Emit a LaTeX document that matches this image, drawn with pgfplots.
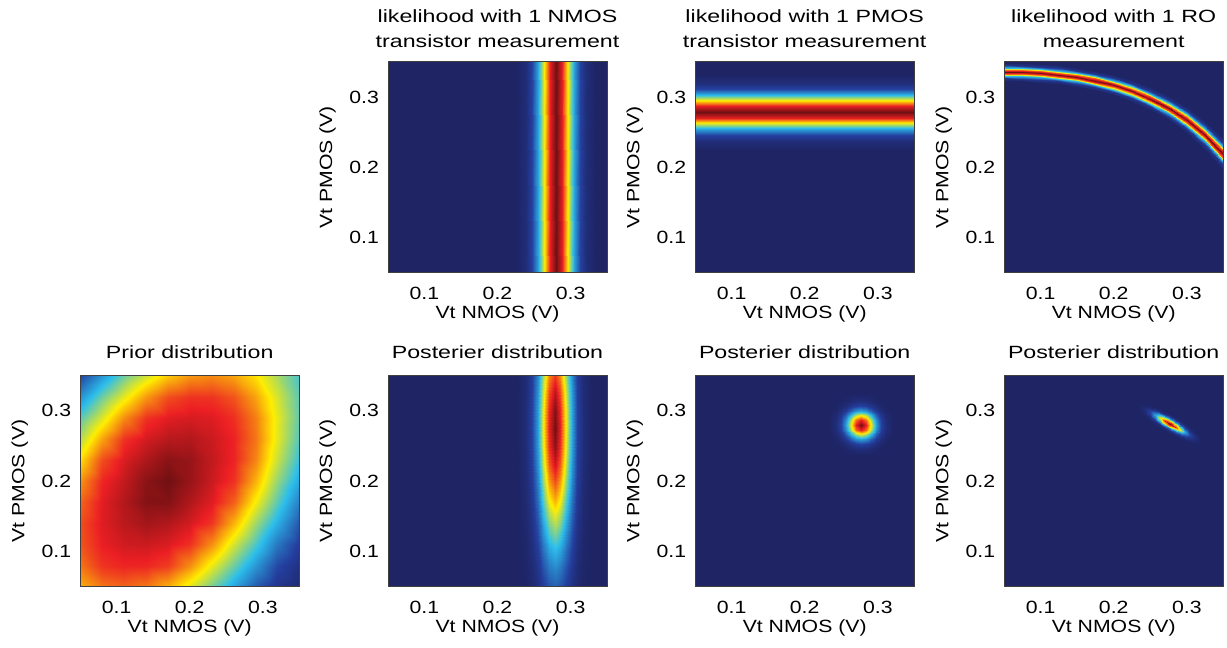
\documentclass[border=0pt]{standalone}
\usepackage{fontspec}
\setmainfont{Liberation Sans}[FakeStretch=1.2]
\newfontfamily\titlefont{Liberation Sans}[FakeStretch=1.31]
\usepackage{pgfplots}
\pgfplotsset{compat=1.18}
\definecolor{bgblue}{RGB}{30,36,100}
\newcommand\fs{\fontsize{8.85}{12.5}\selectfont}
\pgfplotsset{
  hm/.style={
    scale only axis, width=109.7pt, height=105.5pt, anchor=south west,
    xmin=0.05, xmax=0.35, ymin=0.05, ymax=0.35,
    xtick={0.1,0.2,0.3}, ytick={0.1,0.2,0.3},
    xticklabels={0.1,0.2,0.3}, yticklabels={0.1,0.2,0.3},
    major tick length=0pt, axis on top,
    axis line style={draw=black!75, line width=0.3pt},
    colormap={jetp}{rgb255(0cm)=(30,36,100) rgb255(1cm)=(36,62,158) rgb255(3cm)=(44,190,236)
      rgb255(5cm)=(255,237,0) rgb255(7cm)=(236,31,36) rgb255(8cm)=(112,16,18)},
    point meta min=0, point meta max=1,
    axis background/.style={fill=bgblue},
    tick label style={font=\fs}, label style={font=\fs},
    xticklabel style={yshift=-3.7pt}, yticklabel style={xshift=-0.9pt},
    xlabel={Vt NMOS (V)}, ylabel={Vt PMOS (V)},
    xlabel style={at={(axis description cs:0.5,-0.218)}, anchor=base},
    ylabel style={at={(axis description cs:-0.2534,0.5)}, anchor=base},
    title style={font=\titlefont\fs, align=center, at={(axis description cs:0.5,1.08)},
      anchor=south, inner sep=0pt, yshift=-6pt},
  },
  toprow/.style={title style={at={(axis description cs:0.5,1.065)}}},
  hmplot/.style={surf, shader=interp, point meta=explicit, mesh/cols=#1},
}
\begin{document}
\begin{tikzpicture}
\path[use as bounding box] (0,0) rectangle (613.5pt,324pt);

% ---- top row: likelihoods ----
\begin{axis}[hm, toprow, at={(193.9pt,187.6pt)}, title={likelihood with 1 NMOS\\transistor measurement}]
\addplot[hmplot=2] coordinates {
(0.2272,0.05) [0.006] (0.2272,0.35) [0.006]
(0.2388,0.05) [0.044] (0.2388,0.35) [0.044]
(0.2470,0.05) [0.135] (0.2470,0.35) [0.135]
(0.2553,0.05) [0.325] (0.2553,0.35) [0.325]
(0.2635,0.05) [0.607] (0.2635,0.35) [0.607]
(0.2718,0.05) [0.883] (0.2718,0.35) [0.883]
(0.2800,0.05) [1.000] (0.2800,0.35) [1.000]
(0.2883,0.05) [0.883] (0.2883,0.35) [0.883]
(0.2965,0.05) [0.607] (0.2965,0.35) [0.607]
(0.3048,0.05) [0.325] (0.3048,0.35) [0.325]
(0.3130,0.05) [0.135] (0.3130,0.35) [0.135]
(0.3213,0.05) [0.044] (0.3213,0.35) [0.044]
(0.3328,0.05) [0.006] (0.3328,0.35) [0.006]
};
\end{axis}

\begin{axis}[hm, toprow, at={(347.5pt,187.6pt)}, title={likelihood with 1 PMOS\\transistor measurement}]
\addplot[hmplot=2] coordinates {
(0.05,0.2262) [0.006] (0.35,0.2262) [0.006]
(0.05,0.2378) [0.044] (0.35,0.2378) [0.044]
(0.05,0.2460) [0.135] (0.35,0.2460) [0.135]
(0.05,0.2543) [0.325] (0.35,0.2543) [0.325]
(0.05,0.2625) [0.607] (0.35,0.2625) [0.607]
(0.05,0.2708) [0.883] (0.35,0.2708) [0.883]
(0.05,0.2790) [1.000] (0.35,0.2790) [1.000]
(0.05,0.2873) [0.883] (0.35,0.2873) [0.883]
(0.05,0.2955) [0.607] (0.35,0.2955) [0.607]
(0.05,0.3038) [0.325] (0.35,0.3038) [0.325]
(0.05,0.3120) [0.135] (0.35,0.3120) [0.135]
(0.05,0.3203) [0.044] (0.35,0.3203) [0.044]
(0.05,0.3318) [0.006] (0.35,0.3318) [0.006]
};
\end{axis}

\begin{axis}[hm, toprow, at={(502pt,187.6pt)}, title={likelihood with 1 RO\\measurement}]
% one scanline per x, across the band
\addplot[hmplot=9] coordinates {
(0.050,0.3232) [0.006] (0.050,0.3272) [0.089] (0.050,0.3304) [0.375] (0.050,0.3332) [0.783] (0.050,0.3360) [1] (0.050,0.3388) [0.783] (0.050,0.3416) [0.375] (0.050,0.3448) [0.089] (0.050,0.3488) [0.006]
(0.075,0.3220) [0.006] (0.075,0.3261) [0.089] (0.075,0.3294) [0.375] (0.075,0.3322) [0.783] (0.075,0.3351) [1] (0.075,0.3380) [0.783] (0.075,0.3408) [0.375] (0.075,0.3441) [0.089] (0.075,0.3482) [0.006]
(0.100,0.3205) [0.006] (0.100,0.3246) [0.089] (0.100,0.3279) [0.375] (0.100,0.3307) [0.783] (0.100,0.3336) [1] (0.100,0.3365) [0.783] (0.100,0.3393) [0.375] (0.100,0.3426) [0.089] (0.100,0.3467) [0.006]
(0.125,0.3180) [0.006] (0.125,0.3222) [0.089] (0.125,0.3255) [0.375] (0.125,0.3285) [0.783] (0.125,0.3314) [1] (0.125,0.3343) [0.783] (0.125,0.3373) [0.375] (0.125,0.3406) [0.089] (0.125,0.3448) [0.006]
(0.150,0.3142) [0.006] (0.150,0.3185) [0.089] (0.150,0.3220) [0.375] (0.150,0.3250) [0.783] (0.150,0.3280) [1] (0.150,0.3310) [0.783] (0.150,0.3340) [0.375] (0.150,0.3375) [0.089] (0.150,0.3418) [0.006]
(0.175,0.3092) [0.006] (0.175,0.3136) [0.089] (0.175,0.3171) [0.375] (0.175,0.3202) [0.783] (0.175,0.3233) [1] (0.175,0.3264) [0.783] (0.175,0.3295) [0.375] (0.175,0.3330) [0.089] (0.175,0.3374) [0.006]
(0.200,0.3025) [0.006] (0.200,0.3070) [0.089] (0.200,0.3106) [0.375] (0.200,0.3138) [0.783] (0.200,0.3169) [1] (0.200,0.3200) [0.783] (0.200,0.3232) [0.375] (0.200,0.3268) [0.089] (0.200,0.3313) [0.006]
(0.225,0.2935) [0.006] (0.225,0.2982) [0.089] (0.225,0.3019) [0.375] (0.225,0.3052) [0.783] (0.225,0.3085) [1] (0.225,0.3118) [0.783] (0.225,0.3151) [0.375] (0.225,0.3188) [0.089] (0.225,0.3235) [0.006]
(0.250,0.2816) [0.006] (0.250,0.2866) [0.089] (0.250,0.2906) [0.375] (0.250,0.2941) [0.783] (0.250,0.2976) [1] (0.250,0.3011) [0.783] (0.250,0.3046) [0.375] (0.250,0.3086) [0.089] (0.250,0.3136) [0.006]
(0.275,0.2669) [0.006] (0.275,0.2722) [0.089] (0.275,0.2765) [0.375] (0.275,0.2802) [0.783] (0.275,0.2839) [1] (0.275,0.2876) [0.783] (0.275,0.2913) [0.375] (0.275,0.2956) [0.089] (0.275,0.3009) [0.006]
(0.300,0.2485) [0.006] (0.300,0.2543) [0.089] (0.300,0.2590) [0.375] (0.300,0.2630) [0.783] (0.300,0.2671) [1] (0.300,0.2712) [0.783] (0.300,0.2752) [0.375] (0.300,0.2799) [0.089] (0.300,0.2857) [0.006]
(0.325,0.2253) [0.006] (0.325,0.2317) [0.089] (0.325,0.2368) [0.375] (0.325,0.2413) [0.783] (0.325,0.2458) [1] (0.325,0.2503) [0.783] (0.325,0.2548) [0.375] (0.325,0.2599) [0.089] (0.325,0.2663) [0.006]
(0.350,0.1959) [0.006] (0.350,0.2031) [0.089] (0.350,0.2088) [0.375] (0.350,0.2139) [0.783] (0.350,0.2189) [1] (0.350,0.2239) [0.783] (0.350,0.2290) [0.375] (0.350,0.2347) [0.089] (0.350,0.2419) [0.006]
};
\end{axis}

% ---- bottom row: prior and posteriors ----
\begin{axis}[hm, at={(40pt,30.7pt)}, title={Prior distribution}]
\addplot[hmplot=11] coordinates {
(0.05,0.05) [0.698] (0.08,0.05) [0.768] (0.11,0.05) [0.790] (0.14,0.05) [0.766] (0.17,0.05) [0.695] (0.20,0.05) [0.585] (0.23,0.05) [0.459] (0.26,0.05) [0.321] (0.29,0.05) [0.175] (0.32,0.05) [0.081] (0.35,0.05) [0.030]
(0.05,0.08) [0.770] (0.08,0.08) [0.849] (0.11,0.08) [0.869] (0.14,0.08) [0.866] (0.17,0.08) [0.839] (0.20,0.08) [0.738] (0.23,0.08) [0.598] (0.26,0.08) [0.449] (0.29,0.08) [0.293] (0.32,0.08) [0.144] (0.35,0.08) [0.062]
(0.05,0.11) [0.810] (0.08,0.11) [0.878] (0.11,0.11) [0.905] (0.14,0.11) [0.910] (0.17,0.11) [0.894] (0.20,0.11) [0.854] (0.23,0.11) [0.739] (0.26,0.11) [0.573] (0.29,0.11) [0.412] (0.32,0.11) [0.239] (0.35,0.11) [0.113]
(0.05,0.14) [0.817] (0.08,0.14) [0.890] (0.11,0.14) [0.926] (0.14,0.14) [0.949] (0.17,0.14) [0.935] (0.20,0.14) [0.901] (0.23,0.14) [0.847] (0.26,0.14) [0.695] (0.29,0.14) [0.510] (0.32,0.14) [0.346] (0.35,0.14) [0.174]
(0.05,0.17) [0.790] (0.08,0.17) [0.886] (0.11,0.17) [0.934] (0.14,0.17) [0.980] (0.17,0.17) [0.981] (0.20,0.17) [0.935] (0.23,0.17) [0.888] (0.26,0.17) [0.796] (0.29,0.17) [0.613] (0.32,0.17) [0.435] (0.35,0.17) [0.252]
(0.05,0.20) [0.733] (0.08,0.20) [0.866] (0.11,0.20) [0.918] (0.14,0.20) [0.974] (0.17,0.20) [0.999] (0.20,0.20) [0.961] (0.23,0.20) [0.910] (0.26,0.20) [0.852] (0.29,0.20) [0.694] (0.32,0.20) [0.502] (0.35,0.20) [0.331]
(0.05,0.23) [0.642] (0.08,0.23) [0.820] (0.11,0.23) [0.894] (0.14,0.23) [0.939] (0.17,0.23) [0.974] (0.20,0.23) [0.961] (0.23,0.23) [0.917] (0.26,0.23) [0.870] (0.29,0.23) [0.748] (0.32,0.23) [0.561] (0.35,0.23) [0.389]
(0.05,0.26) [0.535] (0.08,0.26) [0.715] (0.11,0.26) [0.852] (0.14,0.26) [0.901] (0.17,0.26) [0.928] (0.20,0.26) [0.934] (0.23,0.26) [0.910] (0.26,0.26) [0.871] (0.29,0.26) [0.768] (0.32,0.26) [0.595] (0.35,0.26) [0.426]
(0.05,0.29) [0.428] (0.08,0.29) [0.585] (0.11,0.29) [0.743] (0.14,0.29) [0.852] (0.17,0.29) [0.887] (0.20,0.29) [0.899] (0.23,0.29) [0.890] (0.26,0.29) [0.856] (0.29,0.29) [0.757] (0.32,0.29) [0.600] (0.35,0.29) [0.442]
(0.05,0.32) [0.290] (0.08,0.32) [0.456] (0.11,0.32) [0.598] (0.14,0.32) [0.729] (0.17,0.32) [0.819] (0.20,0.32) [0.852] (0.23,0.32) [0.850] (0.26,0.32) [0.809] (0.29,0.32) [0.712] (0.32,0.32) [0.577] (0.35,0.32) [0.436]
(0.05,0.35) [0.135] (0.08,0.35) [0.300] (0.11,0.35) [0.456] (0.14,0.35) [0.572] (0.17,0.35) [0.671] (0.20,0.35) [0.732] (0.23,0.35) [0.747] (0.26,0.35) [0.715] (0.29,0.35) [0.636] (0.32,0.35) [0.527] (0.35,0.35) [0.410]
};
\end{axis}

\begin{axis}[hm, at={(193.9pt,30.7pt)}, title={Posterier distribution}]
\addplot[hmplot=13] coordinates {
(0.2284,0.050) [0.001] (0.2393,0.050) [0.008] (0.2470,0.050) [0.026] (0.2548,0.050) [0.062] (0.2625,0.050) [0.115] (0.2703,0.050) [0.168] (0.2780,0.050) [0.190] (0.2858,0.050) [0.168] (0.2935,0.050) [0.115] (0.3013,0.050) [0.062] (0.3090,0.050) [0.026] (0.3168,0.050) [0.008] (0.3276,0.050) [0.001]
(0.2284,0.075) [0.002] (0.2393,0.075) [0.012] (0.2470,0.075) [0.036] (0.2548,0.075) [0.087] (0.2625,0.075) [0.163] (0.2703,0.075) [0.237] (0.2780,0.075) [0.268] (0.2858,0.075) [0.237] (0.2935,0.075) [0.163] (0.3013,0.075) [0.087] (0.3090,0.075) [0.036] (0.3168,0.075) [0.012] (0.3276,0.075) [0.002]
(0.2284,0.100) [0.002] (0.2393,0.100) [0.016] (0.2470,0.100) [0.049] (0.2548,0.100) [0.118] (0.2625,0.100) [0.220] (0.2703,0.100) [0.321] (0.2780,0.100) [0.363] (0.2858,0.100) [0.321] (0.2935,0.100) [0.220] (0.3013,0.100) [0.118] (0.3090,0.100) [0.049] (0.3168,0.100) [0.016] (0.3276,0.100) [0.002]
(0.2284,0.125) [0.003] (0.2393,0.125) [0.021] (0.2470,0.125) [0.064] (0.2548,0.125) [0.154] (0.2625,0.125) [0.287] (0.2703,0.125) [0.418] (0.2780,0.125) [0.473] (0.2858,0.125) [0.418] (0.2935,0.125) [0.287] (0.3013,0.125) [0.154] (0.3090,0.125) [0.064] (0.3168,0.125) [0.021] (0.3276,0.125) [0.003]
(0.2284,0.150) [0.004] (0.2393,0.150) [0.026] (0.2470,0.150) [0.080] (0.2548,0.150) [0.192] (0.2625,0.150) [0.359] (0.2703,0.150) [0.523] (0.2780,0.150) [0.592] (0.2858,0.150) [0.523] (0.2935,0.150) [0.359] (0.3013,0.150) [0.192] (0.3090,0.150) [0.080] (0.3168,0.150) [0.026] (0.3276,0.150) [0.004]
(0.2284,0.175) [0.004] (0.2393,0.175) [0.031] (0.2470,0.175) [0.096] (0.2548,0.175) [0.231] (0.2625,0.175) [0.432] (0.2703,0.175) [0.629] (0.2780,0.175) [0.712] (0.2858,0.175) [0.629] (0.2935,0.175) [0.432] (0.3013,0.175) [0.231] (0.3090,0.175) [0.096] (0.3168,0.175) [0.031] (0.3276,0.175) [0.004]
(0.2284,0.200) [0.005] (0.2393,0.200) [0.036] (0.2470,0.200) [0.111] (0.2548,0.200) [0.267] (0.2625,0.200) [0.500] (0.2703,0.200) [0.727] (0.2780,0.200) [0.823] (0.2858,0.200) [0.727] (0.2935,0.200) [0.500] (0.3013,0.200) [0.267] (0.3090,0.200) [0.111] (0.3168,0.200) [0.036] (0.3276,0.200) [0.005]
(0.2284,0.225) [0.005] (0.2393,0.225) [0.040] (0.2470,0.225) [0.123] (0.2548,0.225) [0.297] (0.2625,0.225) [0.555] (0.2703,0.225) [0.807] (0.2780,0.225) [0.914] (0.2858,0.225) [0.807] (0.2935,0.225) [0.555] (0.3013,0.225) [0.297] (0.3090,0.225) [0.123] (0.3168,0.225) [0.040] (0.3276,0.225) [0.005]
(0.2284,0.250) [0.006] (0.2393,0.250) [0.043] (0.2470,0.250) [0.132] (0.2548,0.250) [0.317] (0.2625,0.250) [0.592] (0.2703,0.250) [0.861] (0.2780,0.250) [0.975] (0.2858,0.250) [0.861] (0.2935,0.250) [0.592] (0.3013,0.250) [0.317] (0.3090,0.250) [0.132] (0.3168,0.250) [0.043] (0.3276,0.250) [0.006]
(0.2284,0.275) [0.006] (0.2393,0.275) [0.044] (0.2470,0.275) [0.135] (0.2548,0.275) [0.325] (0.2625,0.275) [0.607] (0.2703,0.275) [0.883] (0.2780,0.275) [1.000] (0.2858,0.275) [0.883] (0.2935,0.275) [0.607] (0.3013,0.275) [0.325] (0.3090,0.275) [0.135] (0.3168,0.275) [0.044] (0.3276,0.275) [0.006]
(0.2284,0.300) [0.006] (0.2393,0.300) [0.043] (0.2470,0.300) [0.133] (0.2548,0.300) [0.320] (0.2625,0.300) [0.598] (0.2703,0.300) [0.870] (0.2780,0.300) [0.985] (0.2858,0.300) [0.870] (0.2935,0.300) [0.598] (0.3013,0.300) [0.320] (0.3090,0.300) [0.133] (0.3168,0.300) [0.043] (0.3276,0.300) [0.006]
(0.2284,0.325) [0.006] (0.2393,0.325) [0.041] (0.2470,0.325) [0.126] (0.2548,0.325) [0.303] (0.2625,0.325) [0.566] (0.2703,0.325) [0.823] (0.2780,0.325) [0.932] (0.2858,0.325) [0.823] (0.2935,0.325) [0.566] (0.3013,0.325) [0.303] (0.3090,0.325) [0.126] (0.3168,0.325) [0.041] (0.3276,0.325) [0.006]
(0.2284,0.350) [0.005] (0.2393,0.350) [0.037] (0.2470,0.350) [0.114] (0.2548,0.350) [0.275] (0.2625,0.350) [0.514] (0.2703,0.350) [0.748] (0.2780,0.350) [0.847] (0.2858,0.350) [0.748] (0.2935,0.350) [0.514] (0.3013,0.350) [0.275] (0.3090,0.350) [0.114] (0.3168,0.350) [0.037] (0.3276,0.350) [0.005]
};
\end{axis}

\begin{axis}[hm, at={(347.5pt,30.7pt)}, title={Posterier distribution}]
\addplot[hmplot=13] coordinates {
(0.2338,0.2368) [0] (0.2433,0.2368) [0] (0.2500,0.2368) [0.001] (0.2568,0.2368) [0.002] (0.2635,0.2368) [0.004] (0.2703,0.2368) [0.005] (0.2770,0.2368) [0.006] (0.2838,0.2368) [0.005] (0.2905,0.2368) [0.004] (0.2973,0.2368) [0.002] (0.3040,0.2368) [0.001] (0.3108,0.2368) [0] (0.3202,0.2368) [0]
(0.2338,0.2463) [0] (0.2433,0.2463) [0.002] (0.2500,0.2463) [0.006] (0.2568,0.2463) [0.014] (0.2635,0.2463) [0.027] (0.2703,0.2463) [0.039] (0.2770,0.2463) [0.044] (0.2838,0.2463) [0.039] (0.2905,0.2463) [0.027] (0.2973,0.2463) [0.014] (0.3040,0.2463) [0.006] (0.3108,0.2463) [0.002] (0.3202,0.2463) [0]
(0.2338,0.2530) [0.001] (0.2433,0.2530) [0.006] (0.2500,0.2530) [0.018] (0.2568,0.2530) [0.044] (0.2635,0.2530) [0.082] (0.2703,0.2530) [0.119] (0.2770,0.2530) [0.135] (0.2838,0.2530) [0.119] (0.2905,0.2530) [0.082] (0.2973,0.2530) [0.044] (0.3040,0.2530) [0.018] (0.3108,0.2530) [0.006] (0.3202,0.2530) [0.001]
(0.2338,0.2598) [0.002] (0.2433,0.2598) [0.014] (0.2500,0.2598) [0.044] (0.2568,0.2598) [0.106] (0.2635,0.2598) [0.197] (0.2703,0.2598) [0.287] (0.2770,0.2598) [0.325] (0.2838,0.2598) [0.287] (0.2905,0.2598) [0.197] (0.2973,0.2598) [0.106] (0.3040,0.2598) [0.044] (0.3108,0.2598) [0.014] (0.3202,0.2598) [0.002]
(0.2338,0.2665) [0.004] (0.2433,0.2665) [0.027] (0.2500,0.2665) [0.082] (0.2568,0.2665) [0.197] (0.2635,0.2665) [0.368] (0.2703,0.2665) [0.536] (0.2770,0.2665) [0.607] (0.2838,0.2665) [0.536] (0.2905,0.2665) [0.368] (0.2973,0.2665) [0.197] (0.3040,0.2665) [0.082] (0.3108,0.2665) [0.027] (0.3202,0.2665) [0.004]
(0.2338,0.2733) [0.005] (0.2433,0.2733) [0.039] (0.2500,0.2733) [0.119] (0.2568,0.2733) [0.287] (0.2635,0.2733) [0.536] (0.2703,0.2733) [0.780] (0.2770,0.2733) [0.883] (0.2838,0.2733) [0.780] (0.2905,0.2733) [0.536] (0.2973,0.2733) [0.287] (0.3040,0.2733) [0.119] (0.3108,0.2733) [0.039] (0.3202,0.2733) [0.005]
(0.2338,0.2800) [0.006] (0.2433,0.2800) [0.044] (0.2500,0.2800) [0.135] (0.2568,0.2800) [0.325] (0.2635,0.2800) [0.607] (0.2703,0.2800) [0.883] (0.2770,0.2800) [1.000] (0.2838,0.2800) [0.883] (0.2905,0.2800) [0.607] (0.2973,0.2800) [0.325] (0.3040,0.2800) [0.135] (0.3108,0.2800) [0.044] (0.3202,0.2800) [0.006]
(0.2338,0.2868) [0.005] (0.2433,0.2868) [0.039] (0.2500,0.2868) [0.119] (0.2568,0.2868) [0.287] (0.2635,0.2868) [0.536] (0.2703,0.2868) [0.780] (0.2770,0.2868) [0.883] (0.2838,0.2868) [0.780] (0.2905,0.2868) [0.536] (0.2973,0.2868) [0.287] (0.3040,0.2868) [0.119] (0.3108,0.2868) [0.039] (0.3202,0.2868) [0.005]
(0.2338,0.2935) [0.004] (0.2433,0.2935) [0.027] (0.2500,0.2935) [0.082] (0.2568,0.2935) [0.197] (0.2635,0.2935) [0.368] (0.2703,0.2935) [0.536] (0.2770,0.2935) [0.607] (0.2838,0.2935) [0.536] (0.2905,0.2935) [0.368] (0.2973,0.2935) [0.197] (0.3040,0.2935) [0.082] (0.3108,0.2935) [0.027] (0.3202,0.2935) [0.004]
(0.2338,0.3003) [0.002] (0.2433,0.3003) [0.014] (0.2500,0.3003) [0.044] (0.2568,0.3003) [0.106] (0.2635,0.3003) [0.197] (0.2703,0.3003) [0.287] (0.2770,0.3003) [0.325] (0.2838,0.3003) [0.287] (0.2905,0.3003) [0.197] (0.2973,0.3003) [0.106] (0.3040,0.3003) [0.044] (0.3108,0.3003) [0.014] (0.3202,0.3003) [0.002]
(0.2338,0.3070) [0.001] (0.2433,0.3070) [0.006] (0.2500,0.3070) [0.018] (0.2568,0.3070) [0.044] (0.2635,0.3070) [0.082] (0.2703,0.3070) [0.119] (0.2770,0.3070) [0.135] (0.2838,0.3070) [0.119] (0.2905,0.3070) [0.082] (0.2973,0.3070) [0.044] (0.3040,0.3070) [0.018] (0.3108,0.3070) [0.006] (0.3202,0.3070) [0.001]
(0.2338,0.3138) [0] (0.2433,0.3138) [0.002] (0.2500,0.3138) [0.006] (0.2568,0.3138) [0.014] (0.2635,0.3138) [0.027] (0.2703,0.3138) [0.039] (0.2770,0.3138) [0.044] (0.2838,0.3138) [0.039] (0.2905,0.3138) [0.027] (0.2973,0.3138) [0.014] (0.3040,0.3138) [0.006] (0.3108,0.3138) [0.002] (0.3202,0.3138) [0]
(0.2338,0.3232) [0] (0.2433,0.3232) [0] (0.2500,0.3232) [0.001] (0.2568,0.3232) [0.002] (0.2635,0.3232) [0.004] (0.2703,0.3232) [0.005] (0.2770,0.3232) [0.006] (0.2838,0.3232) [0.005] (0.2905,0.3232) [0.004] (0.2973,0.3232) [0.002] (0.3040,0.3232) [0.001] (0.3108,0.3232) [0] (0.3202,0.3232) [0]
};
\end{axis}

\begin{axis}[hm, at={(502pt,30.7pt)}, title={Posterier distribution}]
% one scanline per step along the ellipse's long axis
\addplot[hmplot=9] coordinates {
(0.22969,0.29589) [0] (0.23123,0.29846) [0.0007] (0.23278,0.30103) [0.0032] (0.23432,0.30360) [0.0081] (0.23586,0.30617) [0.011] (0.23740,0.30874) [0.0081] (0.23894,0.31131) [0.0032] (0.24049,0.31388) [0.0007] (0.24203,0.31645) [0]
(0.23655,0.29178) [0.0003] (0.23809,0.29435) [0.0027] (0.23964,0.29692) [0.0126] (0.24118,0.29949) [0.0322] (0.24272,0.30206) [0.044] (0.24426,0.30463) [0.0322] (0.24580,0.30720) [0.0126] (0.24735,0.30977) [0.0027] (0.24889,0.31234) [0.0003]
(0.24341,0.28767) [0.0009] (0.24495,0.29024) [0.0082] (0.24650,0.29281) [0.0387] (0.24804,0.29538) [0.0988] (0.24958,0.29795) [0.135] (0.25112,0.30052) [0.0988] (0.25266,0.30309) [0.0387] (0.25421,0.30566) [0.0082] (0.25575,0.30823) [0.0009]
(0.25026,0.28356) [0.0022] (0.25180,0.28613) [0.0197] (0.25335,0.28870) [0.0933] (0.25489,0.29127) [0.2379] (0.25643,0.29384) [0.325] (0.25797,0.29641) [0.2379] (0.25951,0.29898) [0.0933] (0.26106,0.30155) [0.0197] (0.26260,0.30412) [0.0022]
(0.25712,0.27944) [0.0041] (0.25866,0.28201) [0.0368] (0.26021,0.28458) [0.1742] (0.26175,0.28715) [0.4443] (0.26329,0.28972) [0.607] (0.26483,0.29229) [0.4443] (0.26637,0.29486) [0.1742] (0.26792,0.29743) [0.0368] (0.26946,0.30000) [0.0041]
(0.26397,0.27533) [0.0060] (0.26551,0.27790) [0.0535] (0.26706,0.28047) [0.2534] (0.26860,0.28304) [0.6464] (0.27014,0.28561) [0.883] (0.27168,0.28818) [0.6464] (0.27322,0.29075) [0.2534] (0.27477,0.29332) [0.0535] (0.27631,0.29589) [0.0060]
(0.27083,0.27122) [0.0068] (0.27237,0.27379) [0.0606] (0.27392,0.27636) [0.2870] (0.27546,0.27893) [0.7320] (0.27700,0.28150) [1.000] (0.27854,0.28407) [0.7320] (0.28008,0.28664) [0.2870] (0.28163,0.28921) [0.0606] (0.28317,0.29178) [0.0068]
(0.27769,0.26711) [0.0060] (0.27923,0.26968) [0.0535] (0.28078,0.27225) [0.2534] (0.28232,0.27482) [0.6464] (0.28386,0.27739) [0.883] (0.28540,0.27996) [0.6464] (0.28694,0.28253) [0.2534] (0.28849,0.28510) [0.0535] (0.29003,0.28767) [0.0060]
(0.28454,0.26300) [0.0041] (0.28608,0.26557) [0.0368] (0.28763,0.26814) [0.1742] (0.28917,0.27071) [0.4443] (0.29071,0.27328) [0.607] (0.29225,0.27585) [0.4443] (0.29379,0.27842) [0.1742] (0.29534,0.28099) [0.0368] (0.29688,0.28356) [0.0041]
(0.29140,0.25888) [0.0022] (0.29294,0.26145) [0.0197] (0.29449,0.26402) [0.0933] (0.29603,0.26659) [0.2379] (0.29757,0.26916) [0.325] (0.29911,0.27173) [0.2379] (0.30065,0.27430) [0.0933] (0.30220,0.27687) [0.0197] (0.30374,0.27944) [0.0022]
(0.29825,0.25477) [0.0009] (0.29979,0.25734) [0.0082] (0.30134,0.25991) [0.0387] (0.30288,0.26248) [0.0988] (0.30442,0.26505) [0.135] (0.30596,0.26762) [0.0988] (0.30750,0.27019) [0.0387] (0.30905,0.27276) [0.0082] (0.31059,0.27533) [0.0009]
(0.30511,0.25066) [0.0003] (0.30665,0.25323) [0.0027] (0.30820,0.25580) [0.0126] (0.30974,0.25837) [0.0322] (0.31128,0.26094) [0.044] (0.31282,0.26351) [0.0322] (0.31436,0.26608) [0.0126] (0.31591,0.26865) [0.0027] (0.31745,0.27122) [0.0003]
(0.31197,0.24655) [0] (0.31351,0.24912) [0.0007] (0.31506,0.25169) [0.0032] (0.31660,0.25426) [0.0081] (0.31814,0.25683) [0.011] (0.31968,0.25940) [0.0081] (0.32122,0.26197) [0.0032] (0.32277,0.26454) [0.0007] (0.32431,0.26711) [0]
};
\end{axis}
\end{tikzpicture}
\end{document}
